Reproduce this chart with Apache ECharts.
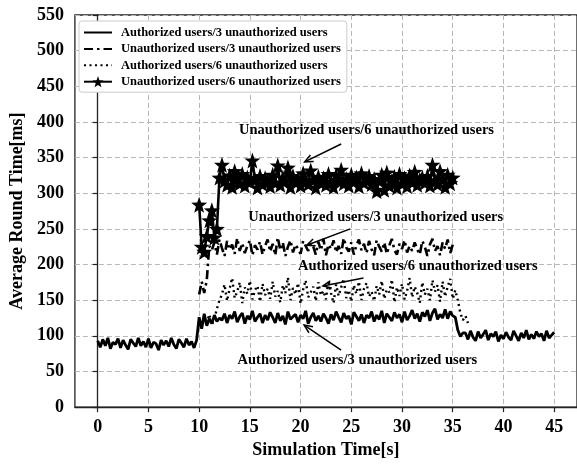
<!DOCTYPE html>
<html>
<head>
<meta charset="utf-8">
<script src="https://cdn.jsdelivr.net/npm/echarts@6/dist/echarts.min.js"></script>
<style>
  html, body { margin: 0; padding: 0; background: #fff; }
  #chart { width: 577px; height: 464px; }
</style>
</head>
<body>
<div id="chart"></div>
<script>
// sampling step of the recorded round times [s]
const STEP = 0.25;

const seriesNames = [
  'Authorized users/3 unauthorized users',
  'Unauthorized users/3 unauthorized users',
  'Authorized users/6 unauthorized users',
  'Unauthorized users/6 unauthorized users'
];

// Authorized users / 3 unauthorized users, t = 0 .. 45
const auth3Start = 0;
const auth3 = [
  93,84,95,86,97,82,91,88,96,83, 94,87,81,95,90,85,97,86,92,84,
  96,83,91,89,80,94,87,93,85,97, 88,82,95,90,84,96,87,92,83,94,
  126,110,131,114,124,117,129,120,125,
  122,131,118,129,124,134,119,127,132,117,128,123,135,120,126,131,118,129,122,133,
  126,118,132,121,128,116,134,123,127,130,119,129,124,135,117,126,132,121,128,120,
  131,125,117,130,122,134,126,119,132,124,128,116,133,127,121,130,118,129,125,134,
  120,129,123,135,118,131,126,121,133,125,130,119,134,122,128,136,124,131,120,133,
  127,136,121,132,138,123,130,125,137,124,134,128,
  126,108,99,104,
  104,95,107,98,93,106,97,102,108,94,103,99,106,92,101,96,105,98,
  94,107,100,93,104,97,108,95,102,96,106,99,103,93,107,97,101,105
];

// Unauthorized users / 3 unauthorized users, t = 10 .. 35
const unauth3Start = 10;
const unauth3 = [
  158,176,160,178,226,
  220,231,214,235,223,212,233,221,228,215,237,219,230,216,226,234,213,227,221,232,
  214,226,235,218,229,213,238,220,231,212,225,234,217,228,222,215,233,226,219,230,
  225,214,232,220,236,213,228,222,234,217,226,215,237,224,218,231,214,227,235,220,
  229,216,233,221,213,234,225,218,231,215,227,236,220,214,229,222,234,217,226,219,
  231,221,214,233,225,212,228,236,219,226,213,231,222,235,216,228
];

// Authorized users / 6 unauthorized users, t = 10 .. 36.5
const auth6Start = 10;
const auth6 = [
  120,112,126,118,130,115,124,138,150,
  158,172,149,166,181,153,162,175,146,168,159,177,151,164,170,148,173,157,166,152,
  176,155,163,147,171,160,182,150,167,158,174,145,165,178,154,161,169,149,175,157,
  163,151,178,160,146,172,156,168,180,153,164,148,171,159,176,150,166,174,155,162,
  149,170,158,177,152,165,161,179,147,168,156,173,151,163,181,154,169,160,146,175,
  158,166,150,178,162,171,148,176,155,169,180,152,164,
  150,132,122,128,118
];

// Unauthorized users / 6 unauthorized users, t = 10 .. 35
const unauth6Start = 10;
const unauth6 = [
  284,225,218,240,262,276,238,250,322,
  340,318,312,325,309,331,320,314,327,311,322,316,346,319,308,324,313,321,317,310,
  326,315,339,312,322,318,336,309,324,316,320,311,328,317,313,332,319,308,323,315,
  321,312,327,316,309,325,318,333,314,320,311,326,317,322,310,328,315,319,324,313,
  320,303,318,326,305,329,311,317,323,308,327,314,321,310,325,316,330,312,319,322,
  315,324,311,340,318,313,331,320,309,326,314,322
];

// axis ticks
const xTicks = [0, 5, 10, 15, 20, 25, 30, 35, 40, 45];

// annotations: label, label centre [t, ms], arrow tail, arrow head
const annTexts = [
  'Unauthorized users/6 unauthorized users',
  'Unauthorized users/3 unauthorized users',
  'Authorized users/6 unauthorized users',
  'Authorized users/3 unauthorized users'
];
const annTextAt = [[26.5, 388], [27.4, 267], [31.55, 197], [25.6, 66]];
const annFrom = [[24.0, 369], [24.9, 250], [26.2, 181], [24.0, 80]];
const annTo = [[20.4, 344], [20.6, 227], [22.2, 170], [20.35, 115]];

const FONT = '"Liberation Serif", "Times New Roman", serif';
const STAR = 'path://M0,-10L2.35,-3.24L9.51,-3.09L3.8,1.24L5.88,8.09L0,4.5L-5.88,8.09L-3.8,1.24L-9.51,-3.09L-2.35,-3.24Z';

function toPairs(start, values) {
  return values.map((v, i) => [start + i * STEP, v]);
}

let myChart = echarts.init(document.getElementById('chart'), null, { renderer: 'canvas' });

// 无标记的线：标记透明，只让图例显示线型
function plainLine(name, lineType, width, values, start) {
  return {
    name: name,
    type: 'line',
    symbol: 'circle',
    showSymbol: false,
    lineStyle: { color: '#000', width: width, type: lineType },
    itemStyle: { color: 'rgba(0,0,0,0)', borderWidth: 0 },
    emphasis: { disabled: true },
    data: toPairs(start, values)
  };
}

let option = {
  animation: false,
  backgroundColor: '#fff',
  grid: {   //绘图区
    left: 73,
    top: 15,
    width: 508,
    height: 394,
    show: true,
    borderColor: '#222',
    borderWidth: 1.3
  },
  legend: {
    orient: 'vertical',
    left: 79,
    top: 21,
    padding: [5, 6, 4, 4],
    itemGap: 3.4,
    itemWidth: 28,
    itemHeight: 14,
    backgroundColor: '#fff',
    borderColor: '#cccccc',
    borderWidth: 1,
    borderRadius: 3,
    textStyle: { fontSize: 12.5, fontWeight: 'bold', fontFamily: FONT, color: '#000', padding: [0, 0, 0, 4] },
    data: seriesNames
  },
  xAxis: {
    type: 'value',
    min: -2.25,
    max: 47.25,
    name: 'Simulation Time[s]',
    nameLocation: 'middle',
    nameGap: 32,
    nameTextStyle: { fontSize: 18, fontWeight: 'bold', fontFamily: FONT, color: '#000' },
    axisLine: { onZero: false, lineStyle: { color: '#222', width: 1.3 } },
    axisTick: { show: true, length: 5, customValues: xTicks, lineStyle: { color: '#222', width: 1.2 } },
    axisLabel: { customValues: xTicks, fontSize: 18, fontWeight: 'bold', fontFamily: FONT, color: '#000', margin: 11 },
    splitLine: { show: true, lineStyle: { color: '#b8b8b8', type: [5, 3], width: 1 } }
  },
  yAxis: {
    type: 'value',
    min: 0,
    max: 550,
    interval: 50,
    name: 'Average Round Time[ms]',
    nameLocation: 'middle',
    nameGap: 44,
    nameTextStyle: { fontSize: 18, fontWeight: 'bold', fontFamily: FONT, color: '#000' },
    axisLine: { show: true, lineStyle: { color: '#222', width: 1.3 } },
    axisTick: { show: true, length: 5, lineStyle: { color: '#222', width: 1.2 } },
    axisLabel: { fontSize: 18, fontWeight: 'bold', fontFamily: FONT, color: '#000', margin: 11 },
    splitLine: { show: true, lineStyle: { color: '#b8b8b8', type: [5, 3], width: 1 } }
  },
  series: [
    plainLine(seriesNames[0], 'solid', 2.8, auth3, auth3Start),
    plainLine(seriesNames[1], [9, 4, 2.5, 4], 2.6, unauth3, unauth3Start),
    plainLine(seriesNames[2], [2, 3.5], 2.4, auth6, auth6Start),
    {
      name: seriesNames[3],
      type: 'line',
      symbol: STAR,
      symbolSize: 16,
      showAllSymbol: true,
      lineStyle: { color: '#000', width: 2.6 },
      itemStyle: { color: '#000', borderWidth: 0 },
      emphasis: { disabled: true },
      data: toPairs(unauth6Start, unauth6)
    }
  ]
};
myChart.setOption(option);

// 注释文字和箭头
function annotations() {
  let els = [];
  annTexts.forEach((txt, i) => {
    let p = myChart.convertToPixel({ gridIndex: 0 }, annTextAt[i]);
    els.push({
      type: 'text', x: p[0], y: p[1], z: 100,
      style: { text: txt, font: 'bold 14.5px ' + FONT, fill: '#000', align: 'center', verticalAlign: 'middle' }
    });
    let a = myChart.convertToPixel({ gridIndex: 0 }, annFrom[i]);
    let b = myChart.convertToPixel({ gridIndex: 0 }, annTo[i]);
    let ang = Math.atan2(a[1] - b[1], a[0] - b[0]);
    let len = 9, spread = 0.42;
    els.push({
      type: 'polyline', z: 100,
      shape: { points: [a, b] },
      style: { stroke: '#000', lineWidth: 1.5, fill: null }
    });
    els.push({
      type: 'polyline', z: 100,
      shape: { points: [
        [b[0] + len * Math.cos(ang + spread), b[1] + len * Math.sin(ang + spread)],
        b,
        [b[0] + len * Math.cos(ang - spread), b[1] + len * Math.sin(ang - spread)]
      ] },
      style: { stroke: '#000', lineWidth: 1.5, fill: null }
    });
  });
  myChart.setOption({ graphic: els });
}
annotations();
</script>
</body>
</html>
